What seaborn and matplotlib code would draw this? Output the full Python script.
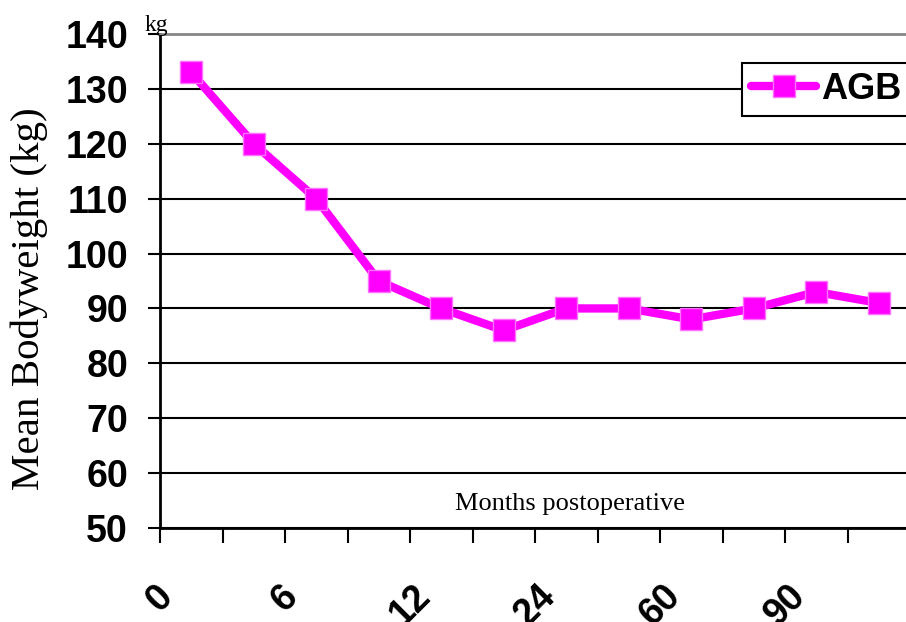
import matplotlib
matplotlib.use("Agg")
import matplotlib.pyplot as plt
import matplotlib.transforms as mtransforms
import seaborn as sns
import pandas as pd
import numpy as np

# Data
visits = list(range(12))
weights = [133, 120, 110, 95, 90, 86, 90, 90, 88, 90, 93, 91]
tick_labels = ["0", "", "6", "", "12", "", "24", "", "60", "", "90", ""]
series_name = "AGB"

df = pd.DataFrame({"visit": visits, "weight": weights, "group": series_name})

sns.set_theme(style="white", rc={"text.color": "black", "axes.labelcolor": "black",
                                 "xtick.color": "black", "ytick.color": "black"})
plt.rcParams['font.family'] = ['Liberation Sans', 'DejaVu Sans']

W, H = 906, 622
fig = plt.figure(figsize=(W / 100, H / 100), dpi=100)
ax = fig.add_axes([160 / W, 94 / H, 750 / W, 494 / H])

magenta = "#FF00FF"
sns.lineplot(data=df, x="visit", y="weight", hue="group", palette=[magenta],
             marker="s", markersize=16, linewidth=6, markeredgecolor="#FF70FF",
             markeredgewidth=1, ax=ax, legend=True)

ax.set_xlim(-0.5, 11.5)
ax.set_ylim(50, 140)
ax.set_yticks(np.arange(50, 141, 10))
ax.set_xticks(np.arange(12) - 0.5)
ax.set_xticklabels(tick_labels, rotation=45, ha="center", va="top",
                   fontsize=27, fontweight="bold", color="black")
offset = mtransforms.ScaledTranslation(4 / 100, 0, fig.dpi_scale_trans)
for lab in ax.get_xticklabels():
    lab.set_transform(lab.get_transform() + offset)
for lab in ax.get_yticklabels():
    lab.set_fontsize(27)
    lab.set_fontweight("bold")
    lab.set_color("black")

ax.tick_params(axis="y", direction="out", length=9, width=1.5, color="black", pad=14, left=True)
ax.tick_params(axis="x", direction="out", length=11, width=1.5, color="black", pad=25, bottom=True)

ax.yaxis.grid(True, color="black", linewidth=1.5)
ax.xaxis.grid(False)
ax.set_axisbelow(True)

for s in ["left", "bottom"]:
    ax.spines[s].set_color("black")
    ax.spines[s].set_linewidth(2)
ax.spines["right"].set_visible(False)
ax.spines["top"].set_color("#888888")
ax.spines["top"].set_linewidth(2)

ax.set_xlabel("")
ax.set_ylabel("")
fig.text(29 / W, 1 - 299 / H, "Mean Bodyweight (kg)", family=["Liberation Serif", "DejaVu Serif"],
         fontsize=29.5, rotation=90, ha="center", va="center", color="black")

ax.text(0.547, 0.049, "Months postoperative", transform=ax.transAxes,
        family=["Liberation Serif", "DejaVu Serif"], fontsize=19,
        ha="center", va="center", color="black")
fig.text(145 / W, 1 - 25 / H, "kg", family=["Liberation Serif", "DejaVu Serif"],
         fontsize=17, ha="left", va="center", color="black")

leg = ax.legend(loc="upper left", bbox_to_anchor=(742 / W, 1 - 63 / H),
                bbox_transform=fig.transFigure, borderaxespad=0, frameon=True,
                fancybox=False, edgecolor="black", framealpha=1,
                prop={"family": "Liberation Sans", "weight": "bold", "size": 26},
                handlelength=1.8, handletextpad=0.15, borderpad=0.25)
leg.get_frame().set_linewidth(1.5)
for t in leg.get_texts():
    t.set_color("black")

fig.savefig("out.png", dpi=100)
